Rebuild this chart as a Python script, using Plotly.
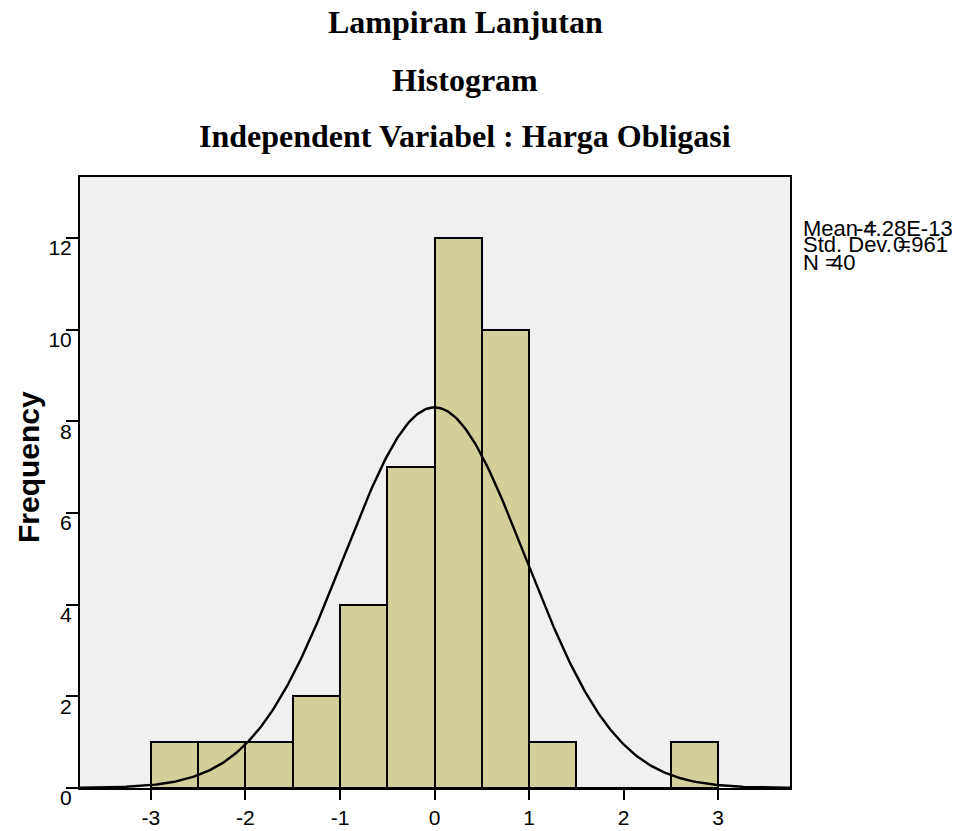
import numpy as np
import plotly.graph_objects as go

# ---- data ----
bin_left = [-3.0, -2.5, -2.0, -1.5, -1.0, -0.5, 0.0, 0.5, 1.0, 1.5, 2.0, 2.5]
counts = [1, 1, 1, 2, 4, 7, 12, 10, 1, 0, 0, 1]
bin_width = 0.5
x_ticks = [-3, -2, -1, 0, 1, 2, 3]
y_ticks = [0, 2, 4, 6, 8, 10, 12]
stat_mean = -4.28e-13
stat_sd = 0.961
stat_n = 40
stat_labels = ["Mean =", "Std. Dev. =", "N ="]
stat_values = ["-4.28E-13", "0.961", "40"]
titles = ["Lampiran Lanjutan", "Histogram", "Independent Variabel : Harga Obligasi"]
y_title = "Frequency"

# ---- derived ----
centers = [b + bin_width / 2 for b in bin_left]
xs = np.linspace(-3.75, 3.76, 400)
ys = stat_n * bin_width / (stat_sd * np.sqrt(2 * np.pi)) * np.exp(-0.5 * ((xs - stat_mean) / stat_sd) ** 2)

W, H = 960, 831
L, R, T, B = 80, 170, 177, 43
ph = H - T - B

def py(pix):
    return (H - B - pix) / ph

def px(pix):
    return (pix - L) / (W - L - R)

fig = go.Figure()
fig.add_trace(go.Bar(
    x=centers, y=counts, width=bin_width,
    marker=dict(color="#d3cf9b", line=dict(color="black", width=2)),
    hoverinfo="x+y", showlegend=False,
))
fig.add_trace(go.Scatter(
    x=xs, y=ys, mode="lines", line=dict(color="black", width=2.4),
    showlegend=False, hoverinfo="skip",
))

ann = []
title_y = [22, 80, 136]
for t, yy in zip(titles, title_y):
    ann.append(dict(text=f"<b>{t}</b>", xref="paper", yref="paper", x=px(465), y=py(yy),
                    xanchor="center", yanchor="middle", showarrow=False,
                    font=dict(family="Liberation Serif, Times New Roman, serif", size=32, color="black")))

stat_y = [228, 245, 262]
value_right = [955, 950, 857]
for lab, val, yy, vr in zip(stat_labels, stat_values, stat_y, value_right):
    ann.append(dict(text=lab, xref="paper", yref="paper", x=px(801), y=py(yy),
                    xanchor="left", yanchor="middle", showarrow=False,
                    font=dict(family="Liberation Sans, Arial, sans-serif", size=22, color="black")))
    ann.append(dict(text=val, xref="paper", yref="paper", x=px(vr), y=py(yy),
                    xanchor="right", yanchor="middle", showarrow=False,
                    font=dict(family="Liberation Sans, Arial, sans-serif", size=22, color="black")))

ann.append(dict(text=f"<b>{y_title}</b>", xref="paper", yref="paper", x=px(28), y=py(467),
                xanchor="center", yanchor="middle", showarrow=False, textangle=-90,
                font=dict(family="Liberation Sans, Arial, sans-serif", size=30, color="black")))

fig.update_layout(
    width=W, height=H,
    margin=dict(l=L, r=R, t=T, b=B, autoexpand=False),
    paper_bgcolor="white", plot_bgcolor="#f0f0f0",
    bargap=0,
    annotations=ann,
    font=dict(family="Liberation Sans, Arial, sans-serif", size=21, color="black"),
    xaxis=dict(range=[-3.75, 3.76], tickvals=x_ticks, ticktext=[str(v) for v in x_ticks],
               ticks="outside", ticklen=10, tickwidth=2, tickcolor="black",
               showline=True, linecolor="black", linewidth=2, mirror=True,
               showgrid=False, zeroline=False, tickfont=dict(size=21)),
    yaxis=dict(range=[0, 13.33], tickvals=y_ticks, ticktext=[str(v) for v in y_ticks],
               ticks="outside", ticklen=12, tickwidth=2, tickcolor="black",
               showline=True, linecolor="black", linewidth=2, mirror=True,
               showgrid=False, zeroline=False, tickfont=dict(size=21),
               ticklabelshift=10, ticklabelstandoff=-10),
)

fig.write_html("out.html", config={"displayModeBar": False},
               post_script="document.body.style.margin='0';document.body.style.overflow='hidden';")
